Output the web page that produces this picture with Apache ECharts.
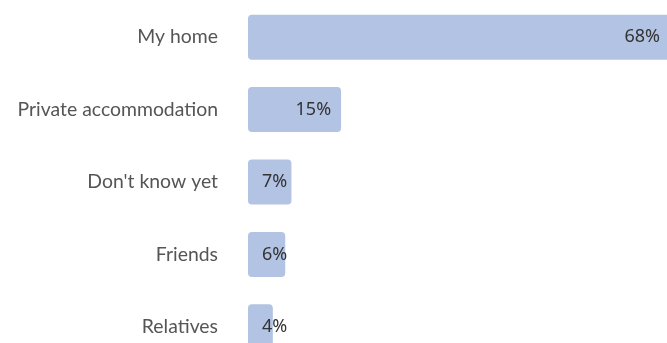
<!DOCTYPE html>
<html>
<head>
<meta charset="utf-8">
<script src="https://cdn.jsdelivr.net/npm/echarts@6/dist/echarts.min.js"></script>
<style>
  html, body { margin: 0; padding: 0; background: #ffffff; }
  #chart { width: 667px; height: 343px; }
</style>
</head>
<body>
<div id="chart"></div>
<script>
// Where people plan to stay (share of respondents, %)
const categories = ['My home', 'Private accommodation', "Don't know yet", 'Friends', 'Relatives'];
const shares = [68, 15, 7, 6, 4];

// Short bars keep their label pinned near the bar start instead of the bar end
const SHORT_BAR = 10;

const chart = echarts.init(document.getElementById('chart'), null, { renderer: 'canvas' });

const barData = shares.map(v => ({
  value: v,
  label: v < SHORT_BAR
    ? { position: 'insideLeft', distance: 14 }
    : { position: 'insideRight', distance: 10 }
}));

chart.setOption({
  animation: false,
  grid: {
    left: 248, top: 1, width: 422, height: 362,
    containLabel: false,
    outerBoundsMode: 'none'
  },
  xAxis: {
    type: 'value',
    min: 0,
    max: 68,
    show: false
  },
  yAxis: {
    type: 'category',
    inverse: true,
    data: categories,
    axisLine: { show: false },
    axisTick: { show: false },
    splitLine: { show: false },
    axisLabel: {
      margin: 30,
      color: '#555555',
      fontSize: 19.4,
      fontFamily: 'Lato'
    }
  },
  series: [{
    type: 'bar',
    data: barData,
    barWidth: 45,
    itemStyle: { color: '#b3c3e3', borderRadius: 4 },
    label: {
      show: true,
      formatter: '{c}%',
      color: '#333333',
      fontSize: 18,
      fontFamily: 'Noto Sans'
    }
  }]
});
</script>
</body>
</html>
